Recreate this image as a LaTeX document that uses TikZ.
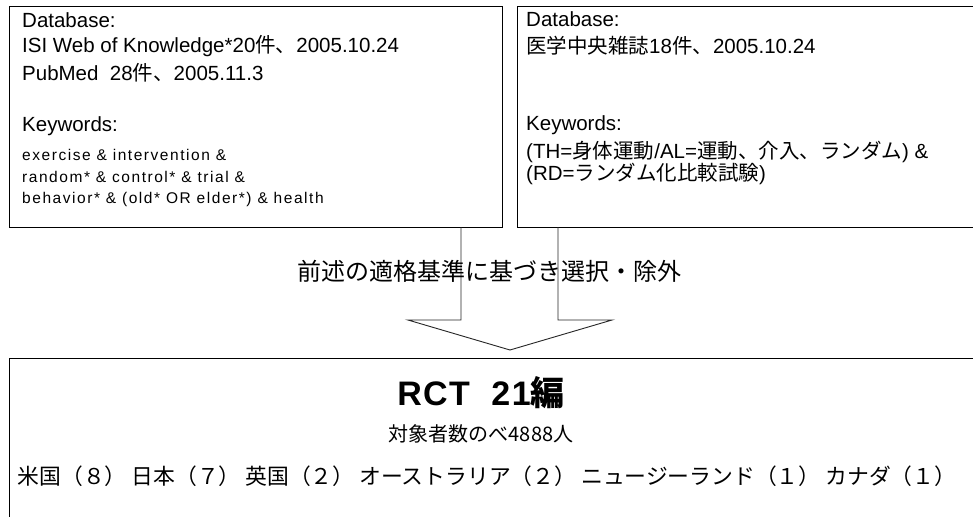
\documentclass[tikz,border=0pt]{standalone}
\usepackage{fontspec}
\setmainfont{Liberation Sans}
\newfontfamily\jp{Noto Sans CJK JP}
\begin{document}
\begin{tikzpicture}[x=1pt,y=-1pt,
  boxshape/.style={draw=black,line width=1.3pt,inner sep=0pt,anchor=north west},
  bigtxt/.style={anchor=west,inner sep=0pt,font=\fontsize{20.5}{24}\selectfont},
  smalltxt/.style={anchor=west,inner sep=0pt,font=\fontsize{15.5}{19}\selectfont\addfontfeature{LetterSpace=10}},
  ctxt/.style={anchor=center,inner sep=0pt},
  arrowline/.style={draw=black!85,line width=0.9pt,line join=miter}]
\useasboundingbox (0,0) rectangle (973,516);
\fill[white] (0,0) rectangle (973,516);
% boxes
\node[boxshape,minimum width=493pt,minimum height=221pt] (lbox) at (9,6) {};
\node[boxshape,minimum width=460pt,minimum height=221pt] (rbox) at (517,6) {};
\node[boxshape,minimum width=968pt,minimum height=164pt] (bbox) at (9,358) {};
% left box text
\node[bigtxt] (l1) at (22,20) {Database:};
\node[bigtxt] (l2) at (22,46) {ISI Web of Knowledge*20{\jp 件、}2005.10.24};
\node[bigtxt] (l3) at (22,73) {PubMed\ \ 28{\jp 件、}2005.11.3};
\node[bigtxt] (l4) at (22,126) {Keywords:};
\node[smalltxt] (l5) at (22,155) {exercise \& intervention \&};
\node[smalltxt] (l6) at (22,177) {random* \& control* \& trial \&};
\node[smalltxt] (l7) at (22,199) {behavior* \& (old* OR elder*) \& health};
% right box text
\node[bigtxt] (r1) at (526,19) {Database:};
\node[bigtxt] (r2) at (526,46) {{\jp 医学中央雑誌}18{\jp 件、}2005.10.24};
\node[bigtxt] (r3) at (526,125) {Keywords:};
\node[bigtxt] (r4) at (526,152) {(TH={\jp 身体運動}/AL={\jp 運動、介入、ランダム}) \&};
\node[bigtxt] (r5) at (526,174) {(RD={\jp ランダム化比較試験})};
% block arrow
\coordinate (a1) at (461,227);
\coordinate (a2) at (461,320);
\coordinate (a3) at (408,320);
\coordinate (tip) at (510,350);
\coordinate (a5) at (612,320);
\coordinate (a6) at (558,320);
\coordinate (a7) at (558,227);
\draw[arrowline] (a1) -- (a2) -- (a3) -- (tip) -- (a5) -- (a6) -- (a7);
\node[ctxt,font=\jp\fontsize{24}{28}\selectfont] (lab) at (489,271) {前述の適格基準に基づき選択・除外};
% bottom box text
\node[ctxt,font=\fontsize{34}{40}\selectfont\bfseries\addfontfeature{LetterSpace=4}] (t1) at (481,393) {RCT\ \ 21{\jp 編}};
\node[ctxt,font=\jp\fontsize{20}{24}\selectfont] (t2) at (481,434) {対象者数のべ4888人};
\node[ctxt,font=\jp\fontsize{21.8}{26}\selectfont] (t3) at (487,476) {米国（８） 日本（７） 英国（２） オーストラリア（２） ニュージーランド（１） カナダ（１）};
\end{tikzpicture}
\end{document}
